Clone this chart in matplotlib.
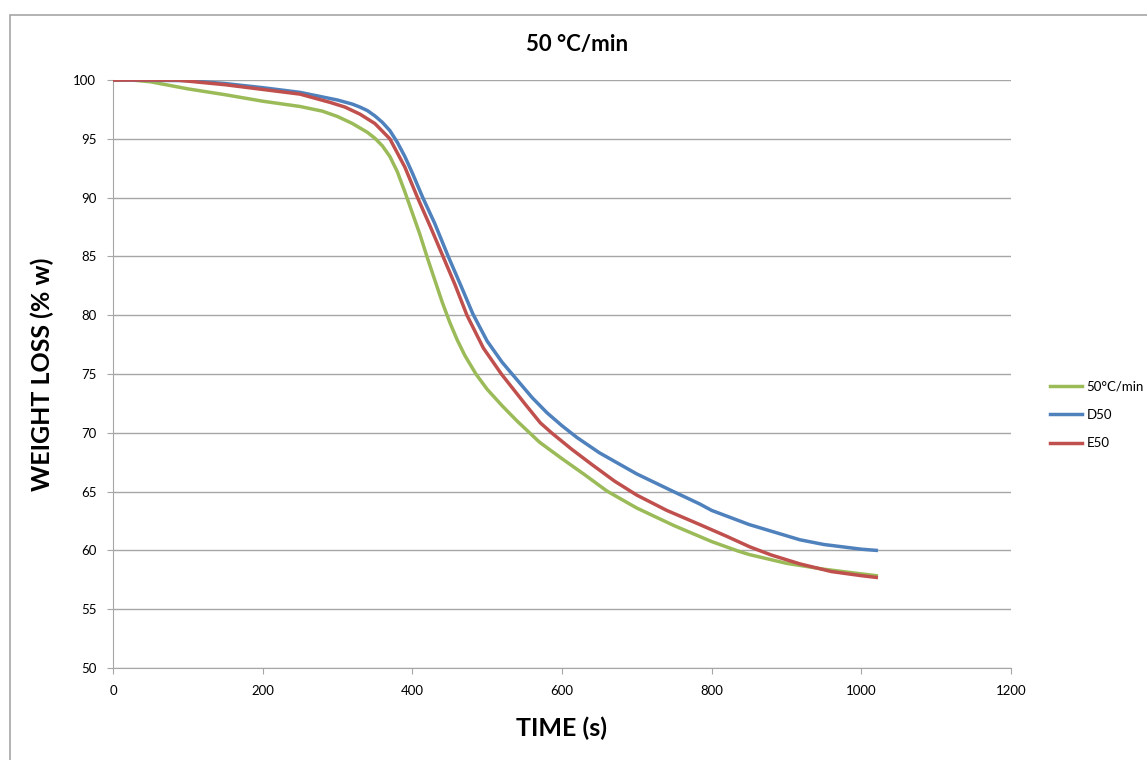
import matplotlib.pyplot as plt
from matplotlib.patches import Rectangle

plt.rcParams['font.family'] = ['Lato', 'DejaVu Sans']

# time (s) / weight (%) readings
t_green = [0, 25, 50, 100, 150, 200, 250, 280, 300, 320, 340, 350, 360, 370, 380, 390,
           400, 410, 420, 430, 440, 450, 460, 470, 485, 500, 520, 540, 555, 570, 585,
           600, 630, 660, 700, 750, 800, 835, 850, 900, 950, 1000, 1020]
w_green = [100, 100, 99.85, 99.25, 98.75, 98.2, 97.75, 97.35, 96.9, 96.3, 95.55, 95.05,
           94.4, 93.5, 92.2, 90.5, 88.7, 86.9, 84.9, 83.0, 81.1, 79.4, 77.9, 76.6, 75.0,
           73.7, 72.3, 71.0, 70.1, 69.2, 68.5, 67.8, 66.45, 65.05, 63.6, 62.1, 60.75,
           59.95, 59.65, 58.9, 58.4, 58.0, 57.85]

t_blue = [0, 100, 150, 200, 250, 300, 320, 330, 340, 350, 360, 370, 380, 390, 400, 414,
          430, 448, 465, 481, 500, 520, 540, 560, 580, 600, 620, 650, 700, 749, 784, 800,
          850, 918, 950, 1000, 1020]
w_blue = [100, 99.95, 99.7, 99.35, 98.95, 98.3, 97.95, 97.7, 97.4, 96.95, 96.4, 95.7,
          94.7, 93.5, 92.1, 90.0, 87.8, 85.0, 82.5, 80.1, 77.8, 76.0, 74.5, 73.0, 71.7,
          70.6, 69.6, 68.3, 66.5, 65.0, 63.95, 63.4, 62.2, 60.9, 60.5, 60.1, 60.0]

t_red = [0, 85, 150, 200, 250, 290, 310, 330, 350, 370, 390, 407, 425, 441, 457, 473,
         495, 519, 550, 571, 586, 613, 640, 670, 700, 740, 784, 820, 851, 880, 918, 960,
         1000, 1020]
w_red = [100, 100, 99.6, 99.2, 98.8, 98.1, 97.7, 97.1, 96.3, 95.0, 92.6, 90.0, 87.4,
         85.0, 82.6, 80.0, 77.2, 75.0, 72.5, 70.85, 70.0, 68.6, 67.3, 65.9, 64.7, 63.4,
         62.2, 61.2, 60.3, 59.6, 58.85, 58.2, 57.85, 57.7]

labels = ['50°C/min', 'D50', 'E50']
colors = ['#9BBB59', '#4F81BD', '#C0504D']
x_ticks = [0, 200, 400, 600, 800, 1000, 1200]
y_ticks = [50, 55, 60, 65, 70, 75, 80, 85, 90, 95, 100]

fig = plt.figure(figsize=(11.47, 7.6), dpi=100)
ax = fig.add_axes([0.0985, 0.1211, 0.7829, 0.7736])

grid_c = '#A6A6A6'
for y in y_ticks:
    ax.axhline(y, color=grid_c, lw=1.0, zorder=1)

ax.plot(t_green, w_green, color=colors[0], lw=2.5, label=labels[0], zorder=3)
ax.plot(t_blue, w_blue, color=colors[1], lw=2.5, label=labels[1], zorder=3)
ax.plot(t_red, w_red, color=colors[2], lw=2.5, label=labels[2], zorder=4)

ax.set_xlim(0, 1200)
ax.set_ylim(50, 100)
ax.set_xticks(x_ticks)
ax.set_yticks(y_ticks)
for s in ['top', 'right']:
    ax.spines[s].set_visible(False)
for s in ['left', 'bottom']:
    ax.spines[s].set_color(grid_c)
ax.tick_params(direction='out', length=4, color=grid_c, labelsize=9.5, pad=8)

ax.set_xlabel('TIME (s)', fontsize=18, fontweight='bold', labelpad=14)
ax.set_ylabel('WEIGHT LOSS (% w)', fontsize=18, fontweight='bold', labelpad=14)
fig.text(577 / 1147, 1 - 45 / 760, '50 °C/min', fontsize=16, fontweight='bold',
         ha='center', va='center')

h, l = ax.get_legend_handles_labels()
fig.legend(h, l, loc='center left', bbox_to_anchor=(1050 / 1147, 1 - 415 / 760),
           frameon=False, fontsize=9.5, handlelength=2.4, handletextpad=0.35,
           labelspacing=1.25, borderpad=0, borderaxespad=0)

fig.patches.append(Rectangle((10 / 1147, -0.1), 1.2, 1 - 15 / 760 + 0.1,
                             transform=fig.transFigure, fill=False,
                             edgecolor='#A6A6A6', lw=1.2))

fig.savefig('out.png', dpi=100)
